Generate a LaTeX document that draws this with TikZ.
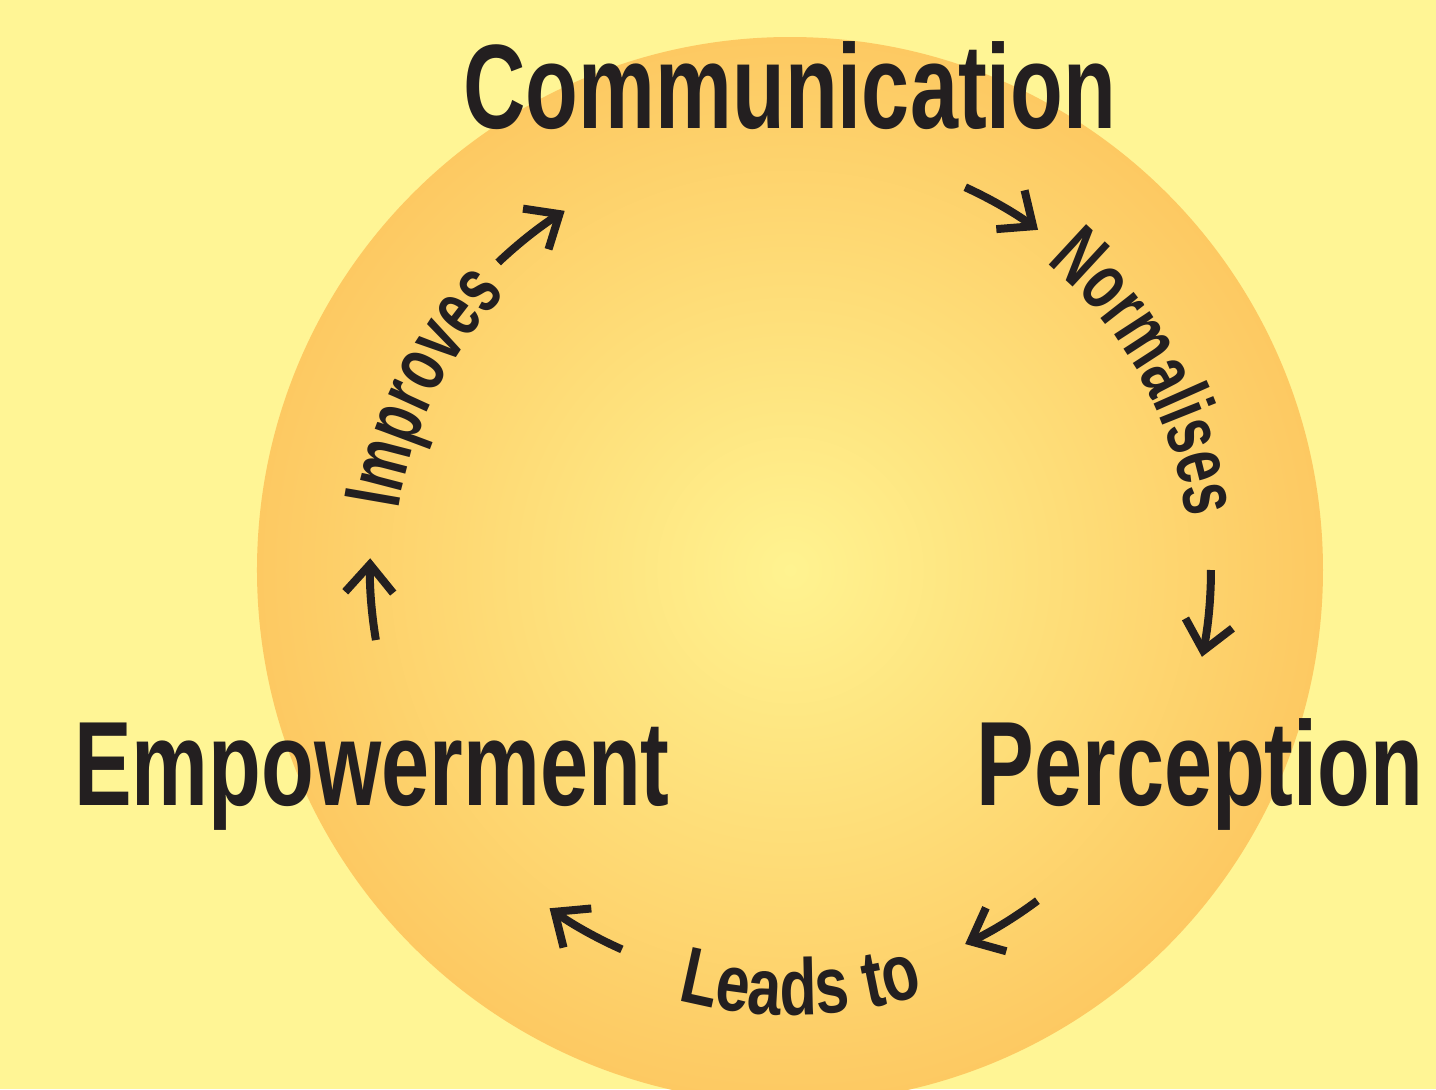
\documentclass[tikz,border=0pt]{standalone}
\usepackage{fontspec}
\usepackage{tikz}
\usetikzlibrary{arrows.meta}
\usetikzlibrary{decorations.text}
\newfontfamily\cyclefont[FakeStretch=0.72]{Liberation Sans Bold}
\newfontfamily\verbfont[FakeStretch=0.69]{Liberation Sans Bold}
\newfontfamily\widefont[FakeStretch=0.76]{Liberation Sans Bold}
\newcommand\labelfont{\verbfont\fontsize{40}{40}\selectfont\color{ink}}
\newcommand\lowfont{\widefont\fontsize{40}{40}\selectfont\color{ink}}
\definecolor{bg}{HTML}{FFF595}
\definecolor{glowin}{HTML}{FFF390}
\definecolor{glowout}{HTML}{FDC962}
\definecolor{ink}{HTML}{231F20}

\begin{document}
\begin{tikzpicture}[x=0.5pt, y=0.5pt,
  word/.style={font=\cyclefont\fontsize{60}{60}\selectfont, text=ink, anchor=base, inner sep=0pt},
  turn/.style={line width=4pt, draw=ink, -{Straight Barb[length=14pt, width=24pt, sharp]}}]
\clip (-790,-519) rectangle (646,570);
\fill [bg] (-790,-519) rectangle (646,570);
\shade [inner color=glowin, outer color=glowout] (0,0) circle [radius=533];
\node (comm) [word] at (0,442) {Communication};
\node (perc) [word] at (410,-235) {Perception};
\node (empo) [word] at (-418,-235) {Empowerment};
\coordinate (t1) at (65.4:421);
\coordinate (t2) at (0:421);
\coordinate (t3) at (-53.2:413);
\coordinate (t4) at (-113.9:415);
\coordinate (t5) at (189.6:420);
\coordinate (t6) at (133.5:424);
\draw [turn] (t1) arc [start angle=65.4, end angle=53.9, radius=421];
\draw [turn] (t2) arc [start angle=0, end angle=-11.9, radius=421];
\draw [turn] (t3) arc [start angle=-53.2, end angle=-64.9, radius=413];
\draw [turn] (t4) arc [start angle=-113.9, end angle=-125.4, radius=415];
\draw [turn] (t5) arc [start angle=189.6, end angle=178.4, radius=420];
\draw [turn] (t6) arc [start angle=133.5, end angle=122.1, radius=424];
\path [decorate, decoration={text along path, text align=center, text={|\labelfont|Normalises}}]
  (58.8:400) arc [start angle=58.8, end angle=-1.2, radius=400];
\path [decorate, decoration={text along path, text align=center, text={|\labelfont|Improves}}]
  (183.5:396) arc [start angle=183.5, end angle=123.5, radius=396];
\path [decorate, decoration={text along path, text align=center, text={|\lowfont|Leads to}}]
  (-118.6:445) arc [start angle=-118.6, end angle=-58.6, radius=445];
\end{tikzpicture}
\end{document}
